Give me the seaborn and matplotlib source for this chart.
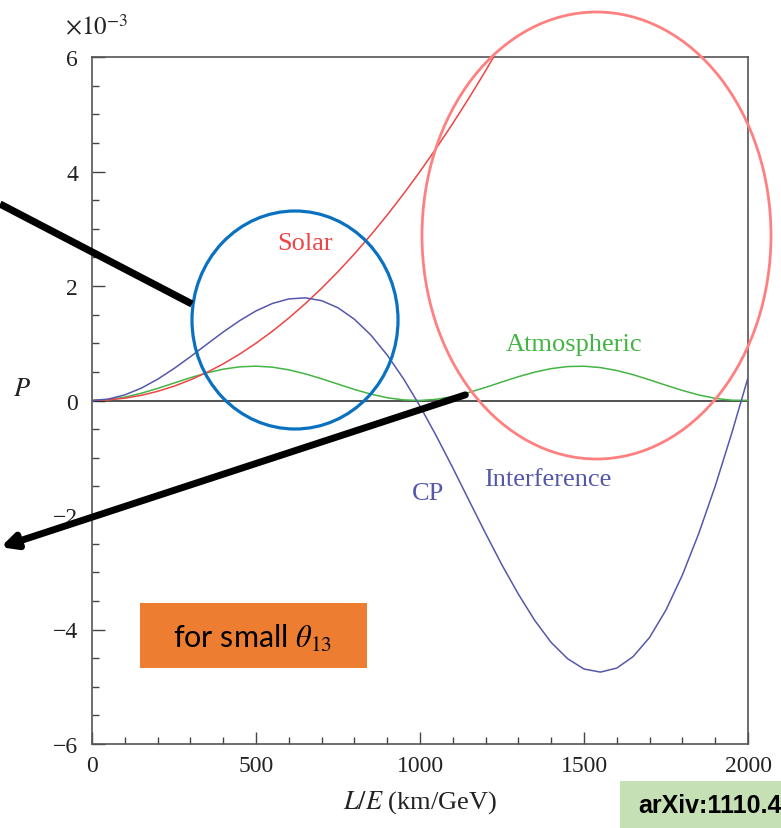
import numpy as np
import pandas as pd
import matplotlib
matplotlib.use("Agg")
import matplotlib.pyplot as plt
import seaborn as sns
from matplotlib.patches import Ellipse, Rectangle, FancyArrowPatch
from matplotlib.lines import Line2D
from matplotlib.ticker import MultipleLocator, FuncFormatter

# ---- data (values in units of 1e-3) ----
L_over_E = [0, 50, 100, 150, 200, 250, 300, 350, 400, 450, 500, 550, 600, 650, 700,
            750, 800, 850, 900, 950, 1000, 1050, 1100, 1150, 1200, 1250, 1300, 1350,
            1400, 1450, 1500, 1550, 1600, 1650, 1700, 1750, 1800, 1850, 1900, 1950, 2000]

atmospheric = [0.0, 0.015, 0.058, 0.126, 0.211, 0.305, 0.398, 0.482, 0.547, 0.588, 0.600,
               0.582, 0.536, 0.466, 0.380, 0.286, 0.193, 0.112, 0.048, 0.010, 0.001,
               0.021, 0.070, 0.142, 0.229, 0.324, 0.416, 0.496, 0.557, 0.593, 0.599,
               0.575, 0.524, 0.450, 0.361, 0.266, 0.176, 0.097, 0.038, 0.005, 0.002]

solar_x = [0, 50, 100, 150, 200, 250, 300, 350, 400, 450, 500, 550, 600, 650, 700,
           750, 800, 850, 900, 950, 1000, 1050, 1100, 1150, 1200, 1250]
solar = [0.0, 0.01, 0.04, 0.09, 0.16, 0.25, 0.36, 0.49, 0.64, 0.81, 1.00, 1.21, 1.44,
         1.69, 1.96, 2.25, 2.56, 2.89, 3.24, 3.61, 4.00, 4.41, 4.84, 5.29, 5.76, 6.25]

interference = [0.0, 0.025, 0.098, 0.215, 0.371, 0.558, 0.765, 0.982, 1.196, 1.394, 1.565,
                1.695, 1.774, 1.793, 1.744, 1.620, 1.419, 1.145, 0.794, 0.377, -0.099,
                -0.622, -1.177, -1.752, -2.322, -2.874, -3.383, -3.843, -4.227, -4.510,
                -4.690, -4.744, -4.674, -4.472, -4.138, -3.659, -3.048, -2.321, -1.496,
                -0.580, 0.397]

x_ticks = [0, 500, 1000, 1500, 2000]
y_ticks = [-6, -4, -2, 0, 2, 4, 6]

# ---- style ----
sns.set_style("ticks")
plt.rcParams['font.family'] = ['Liberation Serif', 'DejaVu Serif']
plt.rcParams['mathtext.fontset'] = 'stix'

W, H = 781, 829
fig = plt.figure(figsize=(W / 100, H / 100), dpi=100)
ax = fig.add_axes([92 / W, 1 - 745 / H, (748 - 92) / W, (745 - 58) / H])

c_red = '#EE4444'
c_green = '#44B444'
c_blue = '#5558AA'

df_atm = pd.DataFrame({'x': L_over_E, 'y': atmospheric})
df_int = pd.DataFrame({'x': L_over_E, 'y': interference})
df_sol = pd.DataFrame({'x': solar_x, 'y': solar})

ax.axhline(0, color='#222222', lw=1.1, zorder=1)
sns.lineplot(data=df_atm, x='x', y='y', ax=ax, color=c_green, lw=1.1, zorder=3)
sns.lineplot(data=df_sol, x='x', y='y', ax=ax, color=c_red, lw=1.1, zorder=3)
sns.lineplot(data=df_int, x='x', y='y', ax=ax, color=c_blue, lw=1.1, zorder=3)

ax.set_xlim(0, 2000)
ax.set_ylim(-6, 6)
ax.set_xticks(x_ticks)
ax.set_yticks(y_ticks)
ax.xaxis.set_minor_locator(MultipleLocator(100))
ax.yaxis.set_minor_locator(MultipleLocator(0.5))
ax.yaxis.set_major_formatter(FuncFormatter(lambda v, p: f"{int(v)}".replace('-', '\u2212')))
ax.tick_params(which='both', direction='in', top=False, right=False, colors='#444444',
               labelcolor='#222222', labelsize=17, width=1.0)
ax.tick_params(which='major', length=9)
ax.tick_params(which='minor', length=5)
ax.tick_params(axis='x', pad=8)
ax.tick_params(axis='y', pad=10)
for s in ax.spines.values():
    s.set_visible(True)
    s.set_color('#555555')
    s.set_linewidth(1.2)

ax.set_xlabel(r"$L/E$ (km/GeV)", fontsize=19, color='#222222', labelpad=9)
ax.set_ylabel(r"$P$", fontsize=19, rotation=0, color='#222222')
ax.yaxis.set_label_coords((22 - 92) / (748 - 92), 0.5)

fig.text(65 / W, 1 - 28 / H, r"$\times 10^{-3}$", fontsize=18, color='#222222', va='center')

# curve labels
ax.text(650, 2.75, "Solar", color=c_red, fontsize=19, ha='center', va='center')
ax.text(1470, 0.98, "Atmospheric", color=c_green, fontsize=19, ha='center', va='center')
ax.text(1390, -1.37, "Interference", color=c_blue, fontsize=19, ha='center', va='center')
ax.text(1025, -1.62, "CP", color=c_blue, fontsize=19, ha='center', va='center')

# annotation overlays (figure coordinates)
tf = fig.transFigure
fig.patches.append(Ellipse((295 / W, 1 - 321 / H), 206 / W, 218 / H, transform=tf,
                           fill=False, ec='#0A70C0', lw=2.3, zorder=5))
fig.patches.append(Ellipse((596.5 / W, 1 - 236.5 / H), 349 / W, 447 / H, transform=tf,
                           fill=False, ec='#FF8080', lw=2.0, zorder=5))
fig.lines.append(Line2D([0 / W, 192 / W], [1 - 205 / H, 1 - 305 / H], transform=tf,
                        color='black', lw=5.2, solid_capstyle='butt', zorder=6))
fig.patches.append(FancyArrowPatch((468 / W, 1 - 395 / H), (-2 / W, 1 - 549 / H),
                                   transform=tf, arrowstyle='-|>', mutation_scale=22,
                                   color='black', lw=5.0, zorder=6))

fig.patches.append(Rectangle((140 / W, 1 - 669 / H), 227 / W, 65 / H, transform=tf,
                             fc='#ED7D31', ec='none', zorder=7))
fig.text(253 / W, 1 - 638 / H, r"for small $\mathit{\theta}_{\mathit{13}}$",
         family=['Lato', 'DejaVu Sans'], fontsize=22, color='black',
         ha='center', va='center', zorder=8)

fig.patches.append(Rectangle((620 / W, 0), 170 / W, 47 / H, transform=tf,
                             fc='#C5E0B4', ec='none', zorder=7))
fig.text(638 / W, 23 / H, "arXiv:1110.4", family=['Liberation Sans', 'DejaVu Sans'],
         fontweight='bold', fontsize=18, color='black', ha='left', va='center', zorder=8)

fig.savefig("out.png", dpi=100)
